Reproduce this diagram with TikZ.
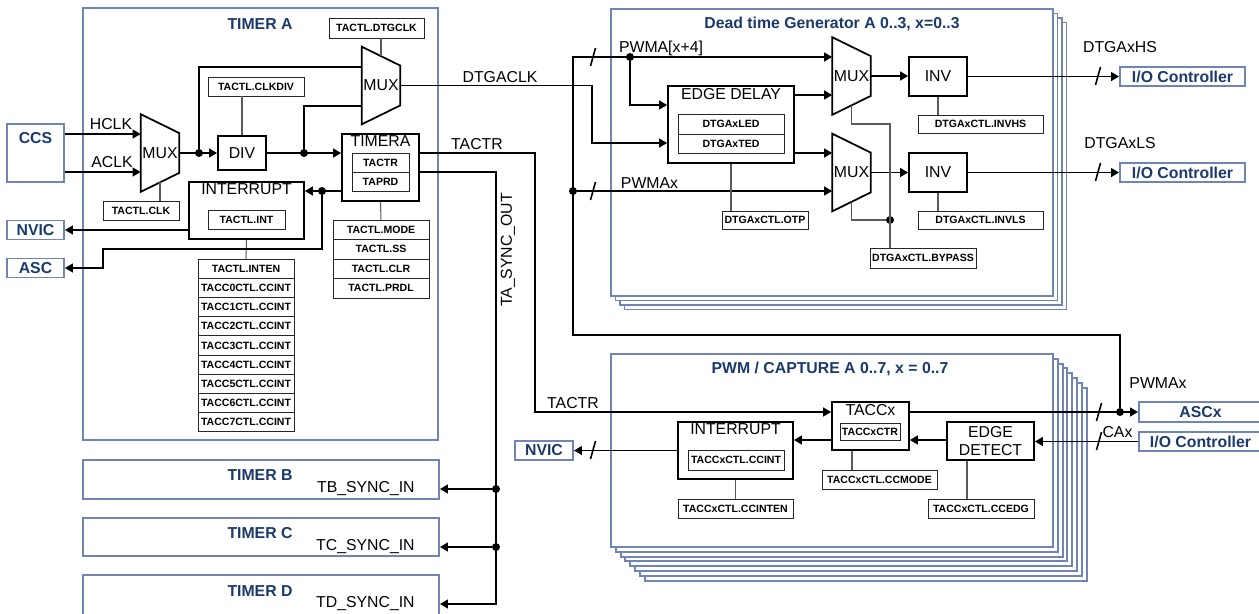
\documentclass[tikz,border=0pt]{standalone}
\usepackage{fontspec}
\setmainfont{Liberation Sans}
\usetikzlibrary{arrows.meta,positioning,calc}
\definecolor{frameB}{HTML}{7084B6}
\definecolor{navyT}{HTML}{1B3A6B}
\definecolor{ctlG}{HTML}{5A5A5A}
\tikzset{
  sz/.style 2 args={minimum width=#1*0.02cm, minimum height=#2*0.02cm},
  frame/.style={draw=frameB, line width=1.1pt, fill=white, inner sep=0pt},
  ttl/.style={font=\fontsize{9}{10}\selectfont\bfseries, text=navyT},
  iobox/.style={draw=frameB, line width=1.1pt, fill=white, inner sep=0pt,
                font=\fontsize{9}{10}\selectfont\bfseries, text=navyT},
  blk/.style={draw, line width=1pt, fill=white, inner sep=0pt,
              font=\fontsize{9}{10}\selectfont},
  blklab/.style={anchor=north, inner sep=1.5pt, font=\fontsize{9}{10}\selectfont},
  reg/.style={draw=black!85, line width=0.5pt, fill=white, inner sep=0pt,
              font=\fontsize{6}{7}\selectfont\bfseries},
  muxbox/.style={sz={38}{77}, inner sep=0pt, font=\fontsize{9}{10}\selectfont},
  lbl/.style={font=\fontsize{9}{10}\selectfont, inner sep=0pt},
  sig/.style={line width=0.9pt},
  arr/.style={sig, -{Triangle[length=4.5pt,width=5pt]}},
  ctl/.style={draw=ctlG, line width=0.6pt},
  jdot/.style={circle, fill, inner sep=0pt, minimum size=0.16cm},
}
\newcommand{\muxpoly}[1]{\draw[line width=1pt] (#1.north west) -- ([yshift=-0.38cm]#1.north east)
  -- ([yshift=0.38cm]#1.south east) -- (#1.south west) -- cycle;}
\newcommand{\busmark}[2]{\draw[sig] (#1,#2) ++(-2.5,9) -- ++(5,-18);}

\begin{document}
\begin{tikzpicture}[x=0.02cm, y=-0.02cm]
  \useasboundingbox (0,0) rectangle (1259,613);
  \clip (0,0) rectangle (1259,613);
  % timer frames
  \node[frame, sz={355}{432}] (tmrA) at (260.5,224) {};
  \node[ttl] (tmrAT) at (260,24) {TIMER A};
  \node[frame, sz={356}{39}] (tmrB) at (261,479.5) {};
  \node[ttl] (tmrBT) at (260,475) {TIMER B};
  \node[frame, sz={356}{38}] (tmrC) at (261,537) {};
  \node[ttl] (tmrCT) at (260,533) {TIMER C};
  \node[frame, sz={356}{70}] (tmrD) at (261,610) {};
  \node[ttl] (tmrDT) at (260,591) {TIMER D};
  \node[lbl, anchor=east] (tbIn) at (415,488.5) {TB\_SYNC\_IN};
  \node[lbl, anchor=east] (tcIn) at (415,546.5) {TC\_SYNC\_IN};
  \node[lbl, anchor=east] (tdIn) at (415,603.5) {TD\_SYNC\_IN};
  % dead time generator stack
  \foreach \k in {3,2,1}
    \node[frame, sz={442}{287}] (dtg\k) at (832+4.5*\k,152.5+4.5*\k) {};
  \node[frame, sz={442}{287}] (dtg) at (832,152.5) {};
  \node[ttl] (dtgT) at (832,24) {Dead time Generator A 0..3, x=0..3};
  % pwm / capture stack
  \foreach \k in {7,...,1}
    \node[frame, sz={442}{193}] (pwm\k) at (832+4.8*\k,450.5+4.8*\k) {};
  \node[frame, sz={442}{193}] (pwm) at (832,450.5) {};
  \node[ttl] (pwmT) at (830,369) {PWM / CAPTURE A 0..7, x = 0..7};
  % outside blocks
  \node[iobox, sz={57}{58}] (ccs) at (35.5,153) {};
  \node[ttl, below=0.06cm of ccs.north] (ccsT) {CCS};
  \node[iobox, sz={57}{19}] (nvicA) at (35.5,230) {NVIC};
  \node[iobox, sz={57}{19}] (asc) at (35.5,268) {ASC};
  \node[iobox, sz={125}{19}] (ioH) at (1182.5,76.5) {I/O Controller};
  \node[iobox, sz={125}{19}] (ioL) at (1182.5,172.5) {I/O Controller};
  \node[iobox, sz={58}{19}] (nvicP) at (544,450.5) {NVIC};
  \node[iobox, sz={123}{20}] (ascx) at (1200.5,412) {ASCx};
  \node[iobox, sz={123}{19}] (ioP) at (1200.5,441.5) {I/O Controller};
  % timer A blocks
  \node[muxbox] (muxC) at (160,153) {MUX};
  \node[muxbox] (muxT) at (381,85.5) {MUX};
  \node[blk, sz={48}{34}] (div) at (242,153) {DIV};
  \node[reg, sz={96}{19}] (clkdiv) at (256,86.5) {TACTL.CLKDIV};
  \node[reg, sz={95}{20}] (dtgclk) at (376.5,28) {TACTL.DTGCLK};
  \node[reg, sz={76}{19}] (clksel) at (141,210.5) {TACTL.CLK};
  \node[blk, sz={77}{67}, label={[blklab]north:TIMERA}] (timera) at (380.5,167.5) {};
  \node[reg, sz={57}{19}] (tactr) at (380.5,162.5) {TACTR};
  \node[reg, sz={57}{19}] (taprd) at (380.5,181.5) {TAPRD};
  \node[blk, sz={115}{57}, label={[blklab]north:INTERRUPT}] (intA) at (246.5,210.5) {};
  \node[reg, sz={77}{19}] (tactlint) at (246.5,219.5) {TACTL.INT};
  \node[reg, sz={96}{19.2}] (inten) at (246,268.6) {TACTL.INTEN};
  \foreach \n in {0,...,7}
    \node[reg, sz={96}{19.2}] (ccint\n) at (246,287.8+19.2*\n) {TACC\n CTL.CCINT};
  \foreach \r [count=\i from 0] in {TACTL.MODE, TACTL.SS, TACTL.CLR, TACTL.PRDL}
    \node[reg, sz={96}{19.5}] (mode\i) at (381,229.75+19.5*\i) {\r};
  % dead time generator blocks
  \node[blk, sz={126}{77}, label={[blklab]north:EDGE DELAY}] (edly) at (731,124.5) {};
  \node[reg, sz={106}{20}] (led) at (731,124) {DTGAxLED};
  \node[reg, sz={106}{19}] (ted) at (731,143.5) {DTGAxTED};
  \node[reg, sz={86}{18}] (otp) at (765,220) {DTGAxCTL.OTP};
  \node[muxbox] (muxH) at (851.5,76) {MUX};
  \node[muxbox] (muxL) at (851.5,172.5) {MUX};
  \node[blk, sz={58}{39}] (invH) at (938,76.5) {INV};
  \node[blk, sz={58}{39}] (invL) at (938,172.5) {INV};
  \node[reg, sz={125}{18}] (invhs) at (980.5,124) {DTGAxCTL.INVHS};
  \node[reg, sz={125}{18}] (invls) at (980.5,220) {DTGAxCTL.INVLS};
  \node[reg, sz={106}{20}] (bypass) at (923,258) {DTGAxCTL.BYPASS};
  % pwm / capture blocks
  \node[blk, sz={77}{48}, label={[blklab]north:TACCx}] (taccx) at (870.5,426) {};
  \node[reg, sz={60}{17}] (taccxctr) at (870,431.5) {TACCxCTR};
  \node[blk, sz={87}{38}, align=center] (edet) at (990.5,441) {EDGE\\DETECT};
  \node[blk, sz={115}{57}, label={[blklab]north:INTERRUPT}] (intP) at (735.5,450.5) {};
  \node[reg, sz={96}{20}] (ccint) at (736,460) {TACCxCTL.CCINT};
  \node[reg, sz={115}{19}] (ccinten) at (735.5,508.5) {TACCxCTL.CCINTEN};
  \node[reg, sz={115}{19}] (ccmode) at (879.5,479.5) {TACCxCTL.CCMODE};
  \node[reg, sz={106}{19}] (ccedg) at (981,508.5) {TACCxCTL.CCEDG};
  \muxpoly{muxC} \muxpoly{muxT} \muxpoly{muxH} \muxpoly{muxL}
  % signal labels
  \node[lbl] (hclkL) at (111,124.5) {HCLK};
  \node[lbl] (aclkL) at (112,162.5) {ACLK};
  \node[lbl] (dtgaclkL) at (500,77.5) {DTGACLK};
  \node[lbl] (tactrL) at (477,144) {TACTR};
  \node[lbl, rotate=90] (syncL) at (508,250) {TA\_SYNC\_OUT};
  \node[lbl] (pwm4L) at (661,48) {PWMA[x+4]};
  \node[lbl] (pwmxL) at (649.5,183) {PWMAx};
  \node[lbl] (hsL) at (1120,47) {DTGAxHS};
  \node[lbl] (lsL) at (1120,143.5) {DTGAxLS};
  \node[lbl] (tactrP) at (573,403) {TACTR};
  \node[lbl] (pwmxP) at (1158,383.5) {PWMAx};
  \node[lbl] (caxL) at (1117.5,432) {CAx};
  % junctions
  \node[jdot] (jMux) at (199,153) {};
  \node[jdot] (jDiv) at (304,153) {};
  \node[jdot] (jInt) at (322,191) {};
  \node[jdot] (jTB) at (496,489) {};
  \node[jdot] (jTC) at (496,547) {};
  \node[jdot] (jAsc) at (1120,412) {};
  \node[jdot] (jPw4) at (630,57) {};
  \node[jdot] (jPwx) at (573,191) {};
  \node[jdot] (jBy) at (890,220) {};
  % timer A wiring
  \draw[arr] (ccs.east |- 0,134) -- (muxC.west |- 0,134);
  \draw[arr] (ccs.east |- 0,172) -- (muxC.west |- 0,172);
  \draw[arr] (muxC.east) -- (div.west);
  \draw[sig] (jMux) |- (muxT.west |- 0,67);
  \draw[arr] (div.east) -- (timera.west |- div.east);
  \draw[sig] (jDiv) |- (muxT.west |- 0,106);
  \draw[arr] (muxT.east) -- (592,85.5) |- (edly.west |- 0,143);
  \draw[ctl] (dtgclk.south -| muxT.north) -- ([yshift=-0.19cm]muxT.north);
  \draw[ctl] ([yshift=0.19cm]muxC.south) -- (muxC.south |- clksel.north);
  \draw[ctl] (div.north) -- (div.north |- clkdiv.south);
  \draw[ctl] (intA.south) -- (inten.north);
  \draw[ctl] (timera.south) -- (mode0.north);
  \draw[arr] (timera.west |- jInt) -- (intA.east |- jInt);
  \draw[arr] (jInt) |- (103,249) |- (asc.east);
  \draw[arr] (intA.west |- nvicA) -- (nvicA.east);
  \draw[arr] (timera.east |- 0,153) -| (535,412) -- (taccx.west |- 0,412);
  \draw[arr] (timera.east |- 0,172) -| (496,604) -- (tmrD.east |- 0,604);
  \draw[arr] (jTB) -- (tmrB.east |- jTB);
  \draw[arr] (jTC) -- (tmrC.east |- jTC);
  % dead time generator wiring
  \draw[arr] (jAsc) -- (1120,335) -| (573,57) -- (muxH.west |- 0,57);
  \draw[arr] (jPw4) |- (edly.west |- 0,105);
  \draw[arr] (jPwx) -- (muxL.west |- jPwx);
  \draw[arr] (edly.east |- 0,95) -- (muxH.west |- 0,95);
  \draw[arr] (edly.east |- 0,153) -- (muxL.west |- 0,153);
  \draw[arr] (muxH.east) -- (invH.west |- muxH.east);
  \draw[arr] (muxL.east) -- (invL.west |- muxL.east);
  \draw[arr] (invH.east) -- (ioH.west);
  \draw[arr] (invL.east) -- (ioL.west);
  \draw[ctl] (invH.south) -- (invH.south |- invhs.north);
  \draw[ctl] (invL.south) -- (invL.south |- invls.north);
  \draw[ctl] (edly.south) -- (edly.south |- otp.north);
  \draw[ctl] ([yshift=0.19cm]muxH.south) |- (890,124) -- (bypass.north -| 890,0);
  \draw[ctl] ([yshift=0.19cm]muxL.south) |- (jBy);
  % pwm / capture wiring
  \draw[arr] (taccx.east |- ascx) -- (ascx.west);
  \draw[arr] (ioP.west) -- (edet.east |- ioP.west);
  \draw[arr] (edet.west |- 0,440) -- (taccx.east |- 0,440);
  \draw[arr] (taccx.west |- 0,440) -- (intP.east |- 0,440);
  \draw[arr] (intP.west) -- (nvicP.east);
  \draw[ctl] (intP.south) -- (ccinten.north);
  \draw[ctl] (taccx.south -| 852,0) -- (ccmode.north -| 852,0);
  \draw[ctl] (edet.south -| 967,0) -- (ccedg.north -| 967,0);
  % bus marks
  \busmark{593}{57} \busmark{593}{191}
  \busmark{1098}{76} \busmark{1098}{172}
  \busmark{1099}{412} \busmark{1099}{441} \busmark{593}{450}
\end{tikzpicture}
\end{document}
